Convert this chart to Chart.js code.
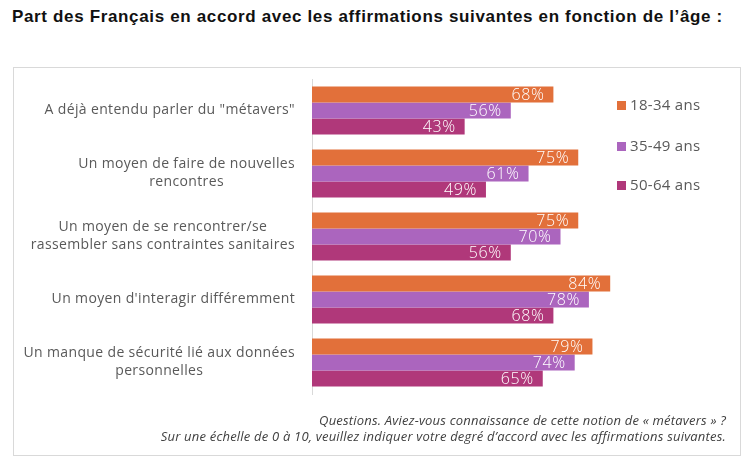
<!DOCTYPE html>
<html>
<head>
<meta charset="utf-8">
<script src="https://cdn.jsdelivr.net/npm/chart.js@4"></script>
<style>
  body { margin: 0; background: #fff; }
  #page { position: relative; width: 750px; height: 461px; overflow: hidden; }
  #titre { position: absolute; left: 12px; top: 7px; font: bold 17px "Liberation Sans", Arial, sans-serif; letter-spacing: 0.65px; color: #111; white-space: nowrap; }
  #cadre { position: absolute; left: 13px; top: 67px; width: 726px; height: 387px; border: 1px solid #d9d9d9; }
  #graph { position: absolute; left: 0; top: 0; }
  #legende { position: absolute; left: 617px; top: 0; font: 15px "Open Sans", sans-serif; letter-spacing: 0.3px; color: #595959; }
  .item { position: absolute; white-space: nowrap; }
  .item span { display: inline-block; width: 9px; height: 9px; margin-right: 4px; vertical-align: 0px; }
  #note { position: absolute; right: 24px; top: 412px; text-align: right; font: italic 13px "Open Sans", sans-serif; letter-spacing: 0.2px; color: #404040; line-height: 16px; white-space: nowrap; }
</style>
</head>
<body>
<div id="page">
  <div id="titre">Part des Français en accord avec les affirmations suivantes en fonction de l’âge :</div>
  <div id="cadre"></div>
  <canvas id="graph" width="750" height="461"></canvas>
  <div id="legende"></div>
  <div id="note">Questions. Aviez-vous connaissance de cette notion de « métavers » ?<br>Sur une échelle de 0 à 10, veuillez indiquer votre degré d’accord avec les affirmations suivantes.</div>
</div>
<script>
// catégories (lignes des libellés)
var categories = [
  ['A déjà entendu parler du "métavers"'],
  ['Un moyen de faire de nouvelles', 'rencontres'],
  ['Un moyen de se rencontrer/se', 'rassembler sans contraintes sanitaires'],
  ["Un moyen d'interagir différemment"],
  ['Un manque de sécurité lié aux données', 'personnelles']
];

// tranches d'âge et valeurs (%)
var tranches = ['18-34 ans', '35-49 ans', '50-64 ans'];
var val1834 = [68, 75, 75, 84, 79];
var val3549 = [56, 61, 70, 78, 74];
var val5064 = [43, 49, 56, 68, 65];
var couleurs = ['#e2703a', '#ab65be', '#b0387a'];

var police = '"Open Sans", sans-serif';

// légende HTML
var leg = document.getElementById('legende');
var legY = [94, 135, 174];
tranches.forEach(function (t, i) {
  var d = document.createElement('div');
  d.className = 'item';
  d.style.top = legY[i] + 'px';
  d.innerHTML = '<span style="background:' + couleurs[i] + '"></span>' + t;
  leg.appendChild(d);
});

// étiquettes blanches au bout des barres
var etiquettes = {
  id: 'etiquettes',
  afterDatasetsDraw: function (chart) {
    var ctx = chart.ctx;
    ctx.save();
    ctx.font = '300 16px ' + police;
    ctx.letterSpacing = '0.6px';
    ctx.fillStyle = '#fff';
    ctx.textAlign = 'right';
    ctx.textBaseline = 'middle';
    chart.data.datasets.forEach(function (ds, i) {
      chart.getDatasetMeta(i).data.forEach(function (bar, j) {
        ctx.fillText(ds.data[j] + '%', bar.x - 9, bar.y + 1);
      });
    });
    ctx.restore();
  }
};

// libellés de catégories : bloc aligné à droite, lignes centrées
var libelles = {
  id: 'libelles',
  afterDraw: function (chart) {
    var ctx = chart.ctx;
    var y = chart.scales.y;
    ctx.save();
    ctx.font = '14px ' + police;
    ctx.letterSpacing = '0.35px';
    ctx.fillStyle = '#595959';
    ctx.textAlign = 'center';
    ctx.textBaseline = 'middle';
    categories.forEach(function (lignes, i) {
      var w = Math.max.apply(null, lignes.map(function (l) { return ctx.measureText(l).width; }));
      var cx = y.right - 17 - w / 2;
      var cy = y.getPixelForValue(i) - (lignes.length - 1) * 18 / 2;
      lignes.forEach(function (l, k) {
        ctx.fillText(l, cx, cy + k * 18);
      });
    });
    ctx.restore();
  }
};

var ctx = document.getElementById('graph').getContext('2d');
var myChart = new Chart(ctx, {
  type: 'bar',
  data: {
    labels: categories,
    datasets: [
      { label: tranches[0], data: val1834, backgroundColor: couleurs[0] },
      { label: tranches[1], data: val3549, backgroundColor: couleurs[1] },
      { label: tranches[2], data: val5064, backgroundColor: couleurs[2] }
    ]
  },
  options: {
    indexAxis: 'y',
    responsive: false,
    animation: false,
    layout: { padding: { left: 14, top: 79, right: 83, bottom: 67 } },
    datasets: { bar: { categoryPercentage: 0.762, barPercentage: 1.0 } },
    plugins: { legend: { display: false }, tooltip: { enabled: false } },
    scales: {
      x: { display: false, min: 0, max: 100 },
      y: {
        grid: { display: false, drawTicks: false },
        border: { display: true, color: '#d9d9d9', width: 1 },
        ticks: { display: false },
        afterFit: function (s) { s.width = 298; }
      }
    }
  },
  plugins: [etiquettes, libelles]
});
</script>
</body>
</html>
